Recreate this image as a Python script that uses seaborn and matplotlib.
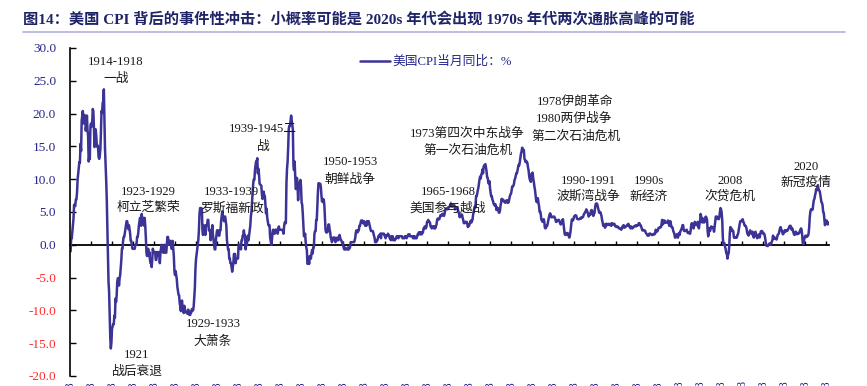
import matplotlib
matplotlib.use("Agg")
import matplotlib.pyplot as plt
from matplotlib.lines import Line2D
import pandas as pd
import seaborn as sns

# ---------------- data (US CPI, YoY %, monthly, from 1915-08) ----------------
cpi_1910s = [
    -1.0, -1.0, 1.0, 1.0, 2.0,
    3.0, 4.0, 6.1, 6.0, 5.9, 6.9, 6.9, 7.9, 9.9, 10.8, 11.7, 12.6,
    12.5, 15.4, 14.3, 18.9, 19.6, 20.4, 18.5, 19.3, 19.8, 19.5, 17.4, 18.1,
    19.7, 17.5, 16.7, 12.7, 13.3, 13.1, 18.0, 18.5, 18.0, 18.5, 20.7, 20.4,
    17.9, 14.9, 17.1, 17.6, 16.6, 15.0, 15.2, 14.9, 13.4, 13.1, 13.5, 14.5,
]
cpi_1920s = [
    17.0, 20.4, 20.1, 21.6, 21.9, 23.7, 19.5, 14.7, 12.4, 9.9, 7.0, 2.6,
    -1.6, -5.6, -7.1, -10.8, -14.1, -15.8, -14.9, -12.8, -12.5, -12.1, -12.1, -10.8,
    -11.1, -8.2, -8.7, -7.7, -5.6, -5.1, -5.1, -6.2, -5.1, -4.6, -3.4, -2.3,
    -0.6, -0.6, 0.6, 1.2, 1.2, 1.8, 2.4, 3.0, 3.6, 3.6, 3.0, 2.4,
    3.0, 2.4, 1.8, 0.6, 0.6, 0.0, -0.6, -0.6, -0.6, -0.6, -0.6, 0.0,
    0.0, 0.0, 1.2, 1.2, 1.8, 2.9, 3.5, 4.1, 3.5, 2.9, 4.7, 3.5,
    3.5, 4.1, 2.9, 4.1, 2.9, 1.1, -1.1, -1.7, -1.1, -0.6, -1.7, -1.1,
    -2.2, -2.8, -2.8, -3.4, -2.2, -0.6, -1.1, -1.1, -1.1, -1.1, -2.3, -2.3,
    -1.1, -1.7, -1.2, -1.2, -1.1, -2.8, -1.2, -0.6, 0.0, -1.1, -0.6, -1.2,
    -1.2, 0.0, -0.6, -1.2, -1.2, 0.0, 1.2, 1.2, 0.0, 0.6, 0.6, 0.6,
]
cpi_1930s = [
    0.0, -0.6, -0.6, 0.6, -0.6, -1.8, -4.0, -4.6, -4.0, -4.6, -5.2, -6.4,
    -7.0, -7.6, -7.7, -8.8, -9.5, -10.1, -9.0, -8.5, -9.6, -9.7, -10.4, -9.3,
    -10.1, -10.2, -10.3, -10.3, -10.5, -9.9, -9.9, -10.6, -10.7, -10.7, -10.2, -10.3,
    -9.8, -9.9, -10.0, -9.4, -8.0, -6.6, -3.7, -2.2, -1.5, -0.8, 0.0, 0.8,
    2.3, 4.7, 5.6, 5.6, 5.6, 5.5, 2.3, 1.5, 3.0, 2.3, 2.3, 1.5,
    3.0, 3.0, 3.0, 3.8, 3.8, 2.2, 2.2, 2.2, 0.7, 1.5, 2.2, 3.0,
    1.5, 0.7, 0.0, -0.7, -0.7, 0.7, 1.5, 2.2, 2.2, 2.2, 1.4, 1.4,
    2.2, 2.2, 3.6, 4.4, 5.1, 4.3, 4.3, 3.6, 4.3, 4.3, 3.6, 2.9,
    0.7, 0.0, -0.7, -0.7, -2.1, -2.1, -2.8, -2.8, -3.4, -4.1, -3.4, -2.8,
    -1.4, -1.4, -1.4, -2.8, -2.1, -2.1, -2.1, -2.1, 0.0, 0.0, 0.0, 0.0,
]
cpi_1940s = [
    -0.7, 0.7, 0.7, 1.4, 1.4, 2.2, 1.4, 1.4, -0.7, 0.0, 0.0, 0.7,
    1.4, 0.7, 1.4, 2.1, 2.9, 4.3, 5.0, 6.4, 7.9, 9.3, 10.0, 9.9,
    11.3, 12.1, 12.7, 12.6, 13.2, 10.9, 11.6, 10.7, 9.3, 9.2, 9.1, 9.0,
    7.6, 7.0, 7.5, 8.1, 7.4, 7.4, 6.1, 4.8, 5.5, 4.2, 3.6, 3.0,
    3.0, 3.0, 1.2, 0.6, 0.0, 0.6, 1.7, 2.3, 1.7, 1.7, 1.7, 2.3,
    2.3, 2.3, 2.3, 1.7, 2.3, 2.8, 2.3, 2.3, 2.3, 2.3, 2.3, 2.2,
    2.2, 1.7, 2.8, 3.4, 3.4, 3.3, 9.4, 11.6, 12.7, 14.9, 17.7, 18.1,
    18.1, 18.8, 19.7, 19.0, 18.4, 17.6, 12.1, 11.4, 12.7, 10.6, 8.5, 8.8,
    10.2, 9.3, 6.8, 8.7, 9.1, 9.5, 9.9, 8.9, 6.5, 6.1, 4.8, 3.0,
    1.3, 1.3, 1.7, 0.4, -0.4, -0.8, -2.9, -2.9, -2.4, -2.9, -1.7, -2.1,
]
cpi_1950s = [
    -2.1, -1.3, -0.8, -1.3, -0.4, -0.4, 1.7, 2.1, 2.1, 3.8, 3.8, 5.9,
    8.1, 9.4, 9.3, 9.3, 9.3, 8.8, 7.5, 6.6, 7.0, 6.5, 6.9, 6.0,
    4.3, 2.3, 1.9, 2.3, 1.9, 2.3, 3.1, 3.1, 2.3, 1.9, 1.1, 0.8,
    0.4, 0.8, 1.1, 0.8, 1.1, 1.1, 0.4, 0.7, 0.7, 1.1, 0.7, 0.7,
    1.1, 1.5, 1.1, 0.8, 0.7, 0.4, 0.4, 0.0, -0.4, -0.7, -0.4, -0.7,
    -0.7, -0.7, -0.7, -0.4, -0.7, -0.7, -0.4, -0.4, 0.4, 0.4, 0.4, 0.4,
    0.4, 0.4, 0.4, 0.7, 1.1, 1.9, 2.2, 1.9, 1.9, 2.2, 2.2, 2.9,
    2.9, 3.3, 3.7, 3.7, 3.7, 3.3, 3.3, 3.6, 3.2, 2.9, 3.3, 2.9,
    3.6, 3.2, 3.6, 3.6, 3.2, 2.8, 2.4, 2.1, 2.1, 2.1, 2.1, 1.8,
    1.4, 1.1, 0.4, 0.4, 0.4, 0.7, 0.7, 1.1, 1.4, 1.4, 1.4, 1.7,
]
cpi_1960s = [
    1.0, 1.7, 1.7, 1.7, 1.7, 1.7, 1.4, 1.4, 1.0, 1.4, 1.4, 1.4,
    1.7, 1.4, 1.4, 1.0, 1.0, 0.7, 1.3, 1.0, 1.3, 0.7, 0.7, 0.7,
    0.7, 1.0, 1.0, 1.3, 1.3, 1.3, 1.0, 1.3, 1.3, 1.3, 1.3, 1.3,
    1.3, 1.0, 1.0, 1.0, 1.0, 1.3, 1.3, 1.3, 1.0, 1.3, 1.3, 1.6,
    1.6, 1.6, 1.3, 1.3, 1.3, 1.3, 1.3, 1.0, 1.3, 1.0, 1.3, 1.0,
    1.0, 1.0, 1.3, 1.6, 1.6, 1.9, 1.6, 1.9, 1.6, 1.9, 1.6, 1.9,
    1.9, 2.5, 2.5, 2.8, 2.8, 2.5, 2.8, 3.5, 3.5, 3.8, 3.5, 3.5,
    3.4, 2.8, 2.8, 2.5, 2.8, 2.8, 2.8, 2.5, 2.8, 2.5, 2.8, 3.0,
    3.6, 4.0, 3.9, 3.9, 3.9, 4.2, 4.5, 4.5, 4.4, 4.7, 4.7, 4.7,
    4.4, 4.7, 5.2, 5.5, 5.5, 5.5, 5.4, 5.7, 5.7, 5.7, 5.9, 6.2,
]
cpi_1970s = [
    6.2, 6.1, 5.8, 6.1, 6.1, 6.0, 6.0, 5.4, 5.7, 5.7, 5.6, 5.6,
    5.3, 5.0, 4.7, 4.2, 4.4, 4.6, 4.4, 4.6, 4.1, 3.8, 3.3, 3.3,
    3.3, 3.5, 3.5, 3.5, 3.2, 2.7, 2.9, 2.9, 3.2, 3.4, 3.7, 3.4,
    3.6, 3.9, 4.6, 5.1, 5.5, 5.9, 5.7, 7.4, 7.4, 7.8, 8.3, 8.7,
    9.4, 10.0, 10.4, 10.1, 10.7, 10.9, 11.5, 10.9, 11.9, 12.1, 12.2, 12.3,
    11.8, 11.2, 10.3, 10.2, 9.5, 9.3, 9.7, 8.6, 7.9, 7.4, 7.4, 6.9,
    6.7, 6.3, 6.1, 6.0, 6.2, 5.9, 5.3, 5.7, 5.5, 5.5, 4.9, 4.9,
    5.2, 6.0, 6.4, 7.0, 6.7, 6.9, 6.8, 6.6, 6.6, 6.4, 6.7, 6.7,
    6.8, 6.4, 6.4, 6.5, 7.0, 7.4, 7.7, 7.8, 8.3, 8.9, 8.9, 9.0,
    9.3, 9.9, 10.1, 10.5, 10.9, 10.9, 11.3, 11.8, 12.2, 12.1, 12.6, 13.3,
]
cpi_1980s = [
    13.9, 14.2, 14.8, 14.7, 14.4, 14.4, 13.1, 12.9, 12.6, 12.8, 12.6, 12.5,
    11.8, 11.4, 10.5, 10.0, 9.8, 9.6, 10.8, 10.8, 11.0, 10.1, 9.6, 8.9,
    8.4, 7.6, 6.8, 6.5, 6.7, 7.1, 6.4, 5.9, 5.0, 5.1, 4.6, 3.8,
    3.7, 3.5, 3.6, 3.9, 3.5, 2.6, 2.5, 2.6, 2.9, 2.9, 3.3, 3.8,
    4.2, 4.6, 4.8, 4.6, 4.2, 4.2, 4.2, 4.3, 4.3, 4.3, 4.1, 3.9,
    3.5, 3.5, 3.7, 3.7, 3.8, 3.8, 3.6, 3.3, 3.1, 3.2, 3.5, 3.8,
    3.9, 3.1, 2.2, 1.6, 1.5, 1.8, 1.6, 1.6, 1.8, 1.5, 1.3, 1.1,
    1.5, 2.1, 3.0, 3.8, 3.9, 3.7, 3.9, 4.3, 4.4, 4.5, 4.5, 4.4,
    4.0, 3.9, 3.9, 3.9, 3.9, 4.0, 4.1, 4.0, 4.2, 4.2, 4.2, 4.4,
    4.7, 4.8, 5.0, 5.1, 5.4, 5.2, 5.0, 4.7, 4.3, 4.5, 4.7, 4.6,
]
cpi_1990s = [
    5.2, 5.3, 5.2, 4.7, 4.4, 4.7, 4.8, 5.6, 6.2, 6.3, 6.3, 6.1,
    5.7, 5.3, 4.9, 4.9, 5.0, 4.7, 4.4, 3.8, 3.4, 2.9, 3.0, 3.1,
    2.6, 2.8, 3.2, 3.2, 3.0, 3.1, 3.2, 3.1, 3.0, 3.2, 3.0, 2.9,
    3.3, 3.2, 3.1, 3.2, 3.2, 3.0, 2.8, 2.8, 2.7, 2.8, 2.7, 2.7,
    2.5, 2.5, 2.5, 2.4, 2.3, 2.5, 2.8, 2.9, 3.0, 2.6, 2.7, 2.7,
    2.8, 2.9, 2.9, 3.1, 3.2, 3.0, 2.8, 2.6, 2.5, 2.8, 2.6, 2.5,
    2.7, 2.7, 2.8, 2.9, 2.9, 2.8, 3.0, 2.9, 3.0, 3.0, 3.3, 3.3,
    3.0, 3.0, 2.8, 2.5, 2.2, 2.3, 2.2, 2.2, 2.2, 2.1, 1.8, 1.7,
    1.6, 1.4, 1.4, 1.4, 1.7, 1.7, 1.7, 1.6, 1.5, 1.5, 1.5, 1.6,
    1.7, 1.6, 1.7, 2.3, 2.1, 2.0, 2.1, 2.3, 2.6, 2.6, 2.6, 2.7,
]
cpi_2000s = [
    2.7, 3.2, 3.8, 3.1, 3.2, 3.7, 3.7, 3.4, 3.5, 3.4, 3.4, 3.4,
    3.7, 3.5, 2.9, 3.3, 3.6, 3.2, 2.7, 2.7, 2.6, 2.1, 1.9, 1.6,
    1.1, 1.1, 1.5, 1.6, 1.2, 1.1, 1.5, 1.8, 1.5, 2.0, 2.2, 2.4,
    2.6, 3.0, 3.0, 2.2, 2.1, 2.1, 2.1, 2.2, 2.3, 2.0, 1.8, 1.9,
    1.9, 1.7, 1.7, 2.3, 3.1, 3.3, 3.0, 2.7, 2.5, 3.2, 3.5, 3.3,
    3.0, 3.0, 3.1, 3.5, 2.8, 2.5, 3.2, 3.6, 4.7, 4.3, 3.5, 3.4,
    4.0, 3.6, 3.4, 3.5, 4.2, 4.3, 4.1, 3.8, 2.1, 1.3, 2.0, 2.5,
    2.1, 2.4, 2.8, 2.6, 2.7, 2.7, 2.4, 2.0, 2.8, 3.5, 4.3, 4.1,
    4.3, 4.0, 4.0, 3.9, 4.2, 5.0, 5.6, 5.4, 4.9, 3.7, 1.1, 0.1,
    0.0, 0.2, -0.4, -0.7, -1.3, -1.4, -2.1, -1.5, -1.3, -0.2, 1.8, 2.7,
]
cpi_2010s = [
    2.6, 2.1, 2.3, 2.2, 2.0, 1.1, 1.2, 1.1, 1.1, 1.2, 1.1, 1.5,
    1.6, 2.1, 2.7, 3.2, 3.6, 3.6, 3.6, 3.8, 3.9, 3.5, 3.4, 3.0,
    2.9, 2.9, 2.7, 2.3, 1.7, 1.7, 1.4, 1.7, 2.0, 2.2, 1.8, 1.7,
    1.6, 2.0, 1.5, 1.1, 1.4, 1.8, 2.0, 1.5, 1.2, 1.0, 1.2, 1.5,
    1.6, 1.1, 1.5, 2.0, 2.1, 2.1, 2.0, 1.7, 1.7, 1.7, 1.3, 0.8,
    -0.1, 0.0, -0.1, -0.2, 0.0, 0.1, 0.2, 0.2, 0.0, 0.2, 0.5, 0.7,
    1.4, 1.0, 0.9, 1.1, 1.0, 1.0, 0.8, 1.1, 1.5, 1.6, 1.7, 2.1,
    2.5, 2.7, 2.4, 2.2, 1.9, 1.6, 1.7, 1.9, 2.2, 2.0, 2.2, 2.1,
    2.1, 2.2, 2.4, 2.5, 2.8, 2.9, 2.9, 2.7, 2.3, 2.5, 2.2, 1.9,
    1.6, 1.5, 1.9, 2.0, 1.8, 1.6, 1.8, 1.7, 1.7, 1.8, 2.1, 2.3,
]
cpi_2020s = [
    2.5, 2.3, 1.5, 0.3, 0.1, 0.6, 1.0, 1.3, 1.4, 1.2, 1.2, 1.4,
    1.4, 1.7, 2.6, 4.2, 5.0, 5.4, 5.4, 5.3, 5.4, 6.2, 6.8, 7.0,
    7.5, 7.9, 8.5, 8.3, 8.6, 9.1, 8.5, 8.3, 8.2, 7.7, 7.1, 6.5,
    6.4, 6.0, 5.0, 4.9, 4.0, 3.0, 3.2, 3.7, 3.7, 3.2, 3.1, 3.4,
]
start_month = "1915-08"
series_name = "美国CPI当月同比：%"

title_text = ("图14：美国 CPI 背后的事件性冲击：小概率可能是 2020s 年代会出现 "
              "1970s 年代两次通胀高峰的可能")

y_ticks = [-20, -15, -10, -5, 0, 5, 10, 15, 20, 25, 30]
y_tick_labels = ["-20.0", "-15.0", "-10.0", "-5.0", "0.0", "5.0",
                 "10.0", "15.0", "20.0", "25.0", "30.0"]

x_tick_labels = ["1915-08", "1918-08", "1921-08", "1924-08", "1927-08", "1930-08",
                 "1933-08", "1936-08", "1939-08", "1942-08", "1945-08", "1948-08",
                 "1951-08", "1954-08", "1957-08", "1960-08", "1963-08", "1966-08",
                 "1969-08", "1972-08", "1975-08", "1978-08", "1981-08", "1984-08",
                 "1987-08", "1990-08", "1993-08", "1996-08", "1999-08", "2002-08",
                 "2005-08", "2008-08", "2011-08", "2014-08", "2017-08", "2020-08",
                 "2023-08"]

# event labels (axes-fraction positions)
annotations = [
    (0.0606, 0.957, "1914-1918"), (0.0606, 0.905, "一战"),
    (0.0883, 0.064, "1921"), (0.0883, 0.012, "战后衰退"),
    (0.1884, 0.159, "1929-1933"), (0.1884, 0.104, "大萧条"),
    (0.1028, 0.561, "1923-1929"), (0.1028, 0.512, "柯立芝繁荣"),
    (0.2121, 0.561, "1933-1939"), (0.2134, 0.512, "罗斯福新政"),
    (0.2543, 0.753, "1939-1945二"), (0.2543, 0.698, "战"),
    (0.3689, 0.652, "1950-1953"), (0.3689, 0.598, "朝鲜战争"),
    (0.4980, 0.561, "1965-1968"), (0.4980, 0.509, "美国参与越战"),
    (0.5231, 0.738, "1973第四次中东战争"), (0.5244, 0.686, "第一次石油危机"),
    (0.6653, 0.835, "1978伊朗革命"), (0.6640, 0.784, "1980两伊战争"),
    (0.6667, 0.729, "第二次石油危机"),
    (0.6825, 0.595, "1990-1991"), (0.6825, 0.546, "波斯湾战争"),
    (0.7628, 0.595, "1990s"), (0.7628, 0.546, "新经济"),
    (0.8696, 0.595, "2008"), (0.8696, 0.546, "次贷危机"),
    (0.9697, 0.637, "2020"), (0.9697, 0.588, "新冠疫情"),
]

# ---------------- build frame ----------------
values = (cpi_1910s + cpi_1920s + cpi_1930s + cpi_1940s + cpi_1950s + cpi_1960s
          + cpi_1970s + cpi_1980s + cpi_1990s + cpi_2000s + cpi_2010s + cpi_2020s)
dates = pd.date_range(start_month, periods=len(values), freq="MS")
df = pd.DataFrame({"t": dates.year + (dates.month - 1) / 12.0, "cpi": values})

tick_dates = pd.to_datetime(x_tick_labels, format="%Y-%m")
tick_pos = list(tick_dates.year + (tick_dates.month - 1) / 12.0)

LINE = "#3B3396"
NAVY = "#25258C"
RED = "#FF2A2A"
TITLE = "#1F2468"
TEXT = "#1A1A1A"

sns.set_style("ticks")
plt.rcParams["font.family"] = ["Liberation Serif", "Noto Sans CJK SC", "DejaVu Sans"]

fig = plt.figure(figsize=(8.67, 3.86), dpi=100)
ax = fig.add_axes([70 / 867, 10 / 386, 759 / 867, 328 / 386])

sns.lineplot(data=df, x="t", y="cpi", ax=ax, color=LINE, linewidth=1.8,
             label=series_name)

ax.set_xlim(tick_pos[0], 2024.0)
ax.set_ylim(-20, 30)
ax.set_xlabel("")
ax.set_ylabel("")

# y axis
ax.set_yticks(y_ticks, labels=y_tick_labels)
ax.tick_params(axis="y", direction="in", length=4, width=1, color="black",
               pad=10, labelsize=9.5, left=True)
for lab, v in zip(ax.get_yticklabels(), y_ticks):
    lab.set_color(RED if v < 0 else NAVY)
ax.spines["left"].set_color("black")
ax.spines["left"].set_linewidth(1.2)
for s in ["top", "right", "bottom"]:
    ax.spines[s].set_visible(False)

# bottom date labels (low position, cut by the lower edge as in the source)
ax.set_xticks(tick_pos, labels=x_tick_labels)
ax.tick_params(axis="x", length=0, pad=3, labelrotation=90, labelsize=9,
               labelcolor=NAVY, bottom=True)

# zero axis line with ticks
sec = ax.secondary_xaxis(0, transform=ax.transData)
sec.set_xticks(tick_pos)
sec.tick_params(axis="x", direction="in", length=3, width=1, color="black",
                labelbottom=False, labeltop=False, bottom=True, top=False)
sec.spines["bottom"].set_linewidth(1.3)
sec.spines["bottom"].set_color("black")
sec.spines["top"].set_visible(False)

# legend
leg = ax.legend(loc="upper center", bbox_to_anchor=(0.482, 1.0), frameon=False,
                fontsize=9.2, handlelength=2.3, handletextpad=0.2,
                borderaxespad=0.2)
for t in leg.get_texts():
    t.set_color(NAVY)

# event annotations
for fx, fy, txt in annotations:
    ax.text(fx, fy, txt, transform=ax.transAxes, ha="center", va="center",
            fontsize=9.2, color=TEXT)

# title and rule
fig.text(23 / 867, 1 - 19 / 386, title_text, ha="left", va="center",
         fontsize=11, fontweight="bold", color=TITLE)
fig.add_artist(Line2D([23 / 867, 845 / 867], [1 - 32 / 386, 1 - 32 / 386],
                      transform=fig.transFigure, color="#B7B7E0", lw=1.3))

fig.savefig("out.png", dpi=100)
